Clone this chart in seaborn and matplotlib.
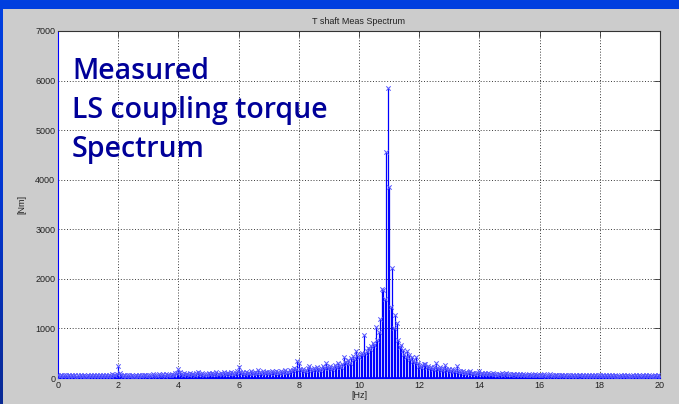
import numpy as np
import pandas as pd
import matplotlib
matplotlib.use("Agg")
import matplotlib.pyplot as plt
import seaborn as sns
from matplotlib.colors import LinearSegmentedColormap

# ---------------- data ----------------
freq_step_hz = 0.05
torque_0_to_1 = [60, 45, 70, 38, 52, 66, 41, 58, 35, 62, 48, 55, 30, 68, 44, 57, 39, 61, 50, 46]
torque_1_to_2 = [53, 40, 64, 36, 58, 47, 70, 42, 55, 33, 61, 49, 66, 38, 57, 44, 72, 51, 60, 85]
torque_2_to_3 = [240, 95, 58, 46, 62, 39, 55, 68, 43, 60, 50, 37, 65, 48, 59, 42, 70, 53, 61, 45]
torque_3_to_4 = [57, 66, 44, 78, 52, 61, 48, 90, 55, 63, 72, 46, 84, 58, 67, 51, 79, 62, 95, 110]
torque_4_to_5 = [175, 120, 88, 70, 95, 76, 83, 64, 98, 72, 86, 69, 105, 127, 80, 74, 92, 67, 88, 79]
torque_5_to_6 = [96, 71, 108, 84, 77, 115, 90, 73, 101, 86, 122, 79, 94, 110, 83, 128, 97, 88, 105, 140]
torque_6_to_7 = [225, 130, 98, 115, 87, 120, 105, 93, 136, 110, 99, 128, 104, 161, 118, 96, 132, 107, 121, 112]
torque_7_to_8 = [124, 103, 140, 117, 99, 135, 122, 110, 148, 126, 115, 160, 131, 119, 152, 138, 170, 210, 185, 349]
torque_8_to_9 = [296, 190, 160, 175, 150, 168, 205, 242, 180, 158, 196, 172, 230, 186, 165, 210, 252, 198, 296, 220]
torque_9_to_10 = [205, 240, 188, 226, 260, 214, 296, 250, 230, 290, 420, 330, 310, 365, 300, 400, 450, 380, 550, 470]
torque_10_to_11 = [420, 480, 511, 867, 504, 538, 610, 580, 645, 700, 665, 1022, 760, 927, 1183, 1800, 1780, 1586, 4550, 5850]
torque_11_to_12 = [3850, 1438, 2218, 1000, 1277, 1102, 760, 620, 665, 560, 480, 420, 538, 460, 390, 430, 350, 330, 430, 310]
torque_12_to_13 = [250, 230, 260, 285, 282, 215, 240, 205, 225, 190, 230, 310, 200, 185, 215, 170, 200, 262, 180, 165]
torque_13_to_14 = [190, 150, 175, 140, 160, 242, 135, 150, 120, 140, 110, 128, 100, 118, 141, 95, 110, 88, 102, 92]
torque_14_to_15 = [141, 85, 98, 86, 102, 79, 94, 88, 72, 97, 81, 90, 68, 85, 76, 92, 70, 83, 107, 74]
torque_15_to_16 = [80, 66, 88, 71, 62, 79, 58, 74, 65, 83, 60, 70, 55, 76, 63, 68, 52, 72, 58, 65]
torque_16_to_17 = [70, 55, 62, 78, 50, 66, 58, 72, 48, 63, 56, 69, 45, 60, 52, 67, 49, 58, 44, 62]
torque_17_to_18 = [55, 47, 63, 50, 58, 42, 60, 53, 46, 57, 40, 61, 49, 54, 43, 59, 47, 52, 41, 56]
torque_18_to_19 = [62, 45, 53, 40, 58, 48, 51, 38, 56, 44, 60, 42, 50, 47, 55, 39, 52, 46, 57, 43]
torque_19_to_20 = [50, 41, 58, 45, 53, 37, 60, 48, 44, 55, 40, 52, 46, 57, 42, 49, 38, 54, 45, 51]
torque_at_20 = [48]

x_ticks = [0, 2, 4, 6, 8, 10, 12, 14, 16, 18, 20]
y_ticks = [0, 1000, 2000, 3000, 4000, 5000, 6000, 7000]
title_text = "T shaft Meas Spectrum"
x_label = "[Hz]"
y_label = "[Nm]"
overlay_text = "Measured\nLS coupling torque\nSpectrum"

torque = np.array(torque_0_to_1 + torque_1_to_2 + torque_2_to_3 + torque_3_to_4 +
                  torque_4_to_5 + torque_5_to_6 + torque_6_to_7 + torque_7_to_8 +
                  torque_8_to_9 + torque_9_to_10 + torque_10_to_11 + torque_11_to_12 +
                  torque_12_to_13 + torque_13_to_14 + torque_14_to_15 + torque_15_to_16 +
                  torque_16_to_17 + torque_17_to_18 + torque_18_to_19 + torque_19_to_20 +
                  torque_at_20, dtype=float)
freq = np.arange(len(torque)) * freq_step_hz
df = pd.DataFrame({"freq": freq, "torque": torque})

# ---------------- style ----------------
sns.set_style("white")
plt.rcParams["font.family"] = ["Liberation Sans", "DejaVu Sans"]

W, H = 679, 404
fig = plt.figure(figsize=(W / 100, H / 100), dpi=100)

# blue slide background gradient
bg = fig.add_axes([0, 0, 1, 1], zorder=-10)
cmap = LinearSegmentedColormap.from_list("slide", ["#0a2a94", "#0336d0", "#0040e0"])
grad = np.linspace(0, 1, 256).reshape(-1, 1)
bg.imshow(grad, aspect="auto", cmap=cmap, origin="lower", extent=[0, 1, 0, 1])
bg.set_axis_off()

# grey figure panel
panel = fig.add_axes([3 / W, 0, 1 - 3 / W, 1 - 9 / H], zorder=-5)
panel.set_facecolor("#cccccc")
panel.set_xticks([]); panel.set_yticks([])
for s in panel.spines.values():
    s.set_visible(False)

# main axes
left, right, top, bottom = 58, 660, 31, 378
ax = fig.add_axes([left / W, (H - bottom) / H, (right - left) / W, (bottom - top) / H])
ax.set_facecolor("white")

blue = "#0000ff"
ax.vlines(df["freq"], 0, df["torque"], color=blue, lw=0.9, zorder=3)
sns.scatterplot(data=df, x="freq", y="torque", ax=ax, marker="x", s=10,
                color="#5555ff", linewidth=0.7, zorder=4, legend=False)
ax.axhline(0, color=blue, lw=1.2, zorder=3)

ax.set_xlim(0, 20)
ax.set_ylim(0, 7000)
ax.set_xticks(x_ticks)
ax.set_yticks(y_ticks)
ax.set_xticklabels([str(t) for t in x_ticks])
ax.set_yticklabels([str(t) for t in y_ticks])
ax.tick_params(direction="in", length=4, width=0.6, top=True, right=True,
               labelsize=6.5, labelcolor="#222222", color="#333333", pad=2)
ax.grid(True, color="#222222", linestyle=(0, (1.2, 2.2)), lw=0.6)
for s in ax.spines.values():
    s.set_color("#333333"); s.set_linewidth(0.8)
ax.spines["left"].set_color(blue)
ax.spines["bottom"].set_color(blue)

ax.set_title(title_text, fontsize=6.5, color="#222222", pad=5)
ax.set_xlabel(x_label, fontsize=6.5, color="#222222", labelpad=1)
ax.set_ylabel(y_label, fontsize=6.5, color="#222222", labelpad=6)

fig.text(72 / W, 1 - 57 / H, overlay_text, fontsize=20.5, color="#000099",
         family=["Open Sans", "DejaVu Sans"], fontweight="semibold",
         va="top", ha="left", linespacing=1.46, zorder=10)

fig.savefig("out.png", dpi=100)
